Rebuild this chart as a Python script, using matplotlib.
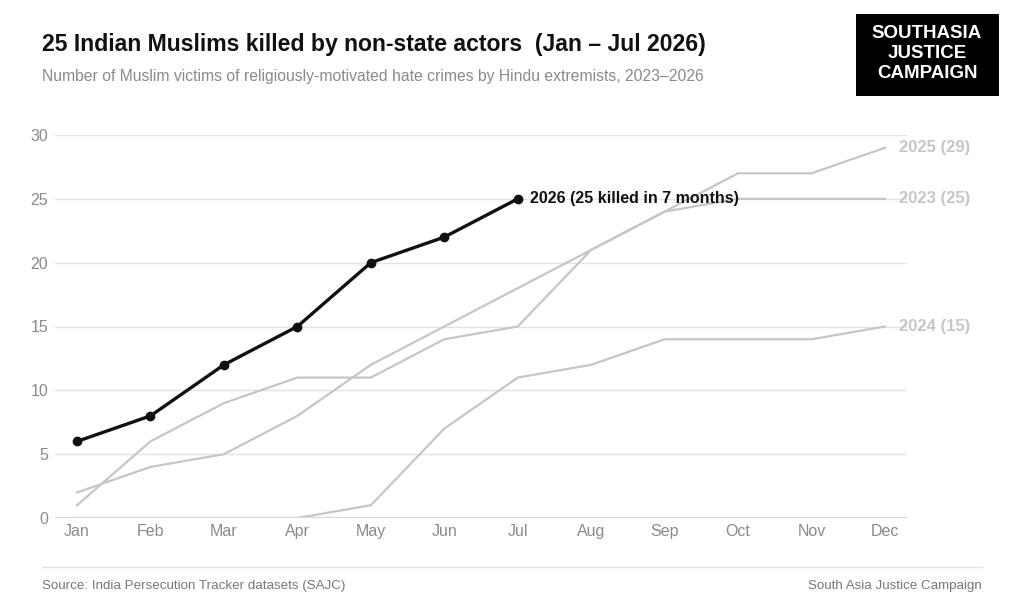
import matplotlib
matplotlib.use("Agg")
import matplotlib.pyplot as plt
from matplotlib.patches import Rectangle
from matplotlib.lines import Line2D

plt.rcParams['font.family'] = ['Liberation Sans', 'DejaVu Sans']

months = ["Jan", "Feb", "Mar", "Apr", "May", "Jun", "Jul", "Aug", "Sep", "Oct", "Nov", "Dec"]
y2023 = [1, 6, 9, 11, 11, 14, 15, 21, 24, 25, 25, 25]
y2024 = [0, 0, 0, 0, 1, 7, 11, 12, 14, 14, 14, 15]
y2025 = [2, 4, 5, 8, 12, 15, 18, 21, 24, 27, 27, 29]
y2026 = [6, 8, 12, 15, 20, 22, 25]
yticks = [0, 5, 10, 15, 20, 25, 30]

GREY = "#c6c6c6"
W, H = 1023, 614

fig = plt.figure(figsize=(W / 100, H / 100), dpi=100)
ax = fig.add_axes([55 / W, 1 - 518 / H, 852 / W, 383 / H])

x = list(range(len(months)))
for ys in (y2023, y2024, y2025):
    ax.plot(x, ys, color=GREY, lw=1.6, zorder=2)
ax.plot(x[:len(y2026)], y2026, color="#111111", lw=2.4, marker="o", ms=6, zorder=4)

# end labels
for ys, lab in ((y2025, "2025"), (y2023, "2023"), (y2024, "2024")):
    ax.annotate(f"{lab} ({ys[-1]})", (x[-1], ys[-1]), xytext=(10, 0), textcoords="offset points",
                va="center", ha="left", color=GREY, fontsize=12, fontweight="bold",
                annotation_clip=False)
ax.annotate(f"2026 ({y2026[-1]} killed in {len(y2026)} months)", (x[len(y2026) - 1], y2026[-1]),
            xytext=(9, 0), textcoords="offset points", va="center", ha="left",
            color="#111111", fontsize=11.5, fontweight="bold", zorder=5)

ax.set_xlim(-0.3, 11.3)
ax.set_ylim(0, 30)
ax.set_yticks(yticks)
ax.set_xticks(x)
ax.set_xticklabels(months)
ax.grid(axis="y", color="#e3e3e3", lw=1, zorder=0)
ax.axhline(0, color="#d6d6d6", lw=1.6, zorder=3)
for s in ax.spines.values():
    s.set_visible(False)
ax.tick_params(length=0, labelsize=11.5, labelcolor="#8a8a8a")
ax.tick_params(axis="y", pad=5)
ax.tick_params(axis="x", pad=4)

# header
fig.text(42 / W, 1 - 44 / H, "25 Indian Muslims killed by non-state actors  (Jan \u2013 Jul 2026)",
         fontsize=16.6, fontweight="bold", color="#111111", va="center", ha="left")
fig.text(42 / W, 1 - 77 / H,
         "Number of Muslim victims of religiously-motivated hate crimes by Hindu extremists, 2023\u20132026",
         fontsize=11.3, color="#8a8a8a", va="center", ha="left")

# logo
fig.patches.append(Rectangle((856 / W, 1 - 96 / H), 143 / W, 82 / H, transform=fig.transFigure,
                             facecolor="black", edgecolor="none"))
for i, word in enumerate(["SOUTHASIA", "JUSTICE", "CAMPAIGN"]):
    fig.text(927 / W, 1 - (33 + 20 * i) / H, word, color="white", fontsize=13.5,
             fontweight="bold", ha="center", va="center")

# footer
fig.lines.append(Line2D([42 / W, 982 / W], [1 - 567 / H, 1 - 567 / H], transform=fig.transFigure,
                        color="#e3e3e3", lw=1))
fig.text(42 / W, 1 - 586 / H, "Source: India Persecution Tracker datasets (SAJC)",
         fontsize=9.6, color="#777777", va="center", ha="left")
fig.text(982 / W, 1 - 586 / H, "South Asia Justice Campaign",
         fontsize=9.6, color="#777777", va="center", ha="right")

fig.savefig("out.png", dpi=100, facecolor="white")
